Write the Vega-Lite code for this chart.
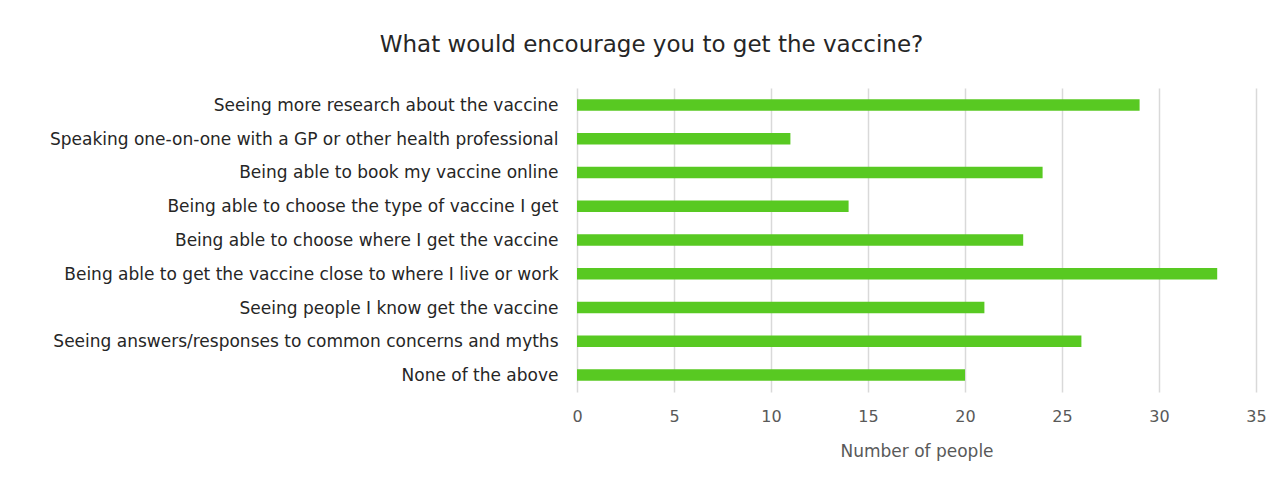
{
  "$schema": "https://vega.github.io/schema/vega-lite/v6.json",
  "autosize": "none",
  "width": 679,
  "height": 304,
  "padding": {"left": 577, "top": 88, "right": 22, "bottom": 88},
  "background": "white",
  "title": {
    "text": "What would encourage you to get the vaccine?",
    "font": "DejaVu Sans",
    "fontSize": 23,
    "fontWeight": "normal",
    "color": "#262626",
    "anchor": "middle",
    "dx": -265,
    "offset": 31
  },
  "data": {
    "values": [
      {"reason": "Seeing more research about the vaccine", "people": 29},
      {"reason": "Speaking one-on-one with a GP or other health professional", "people": 11},
      {"reason": "Being able to book my vaccine online", "people": 24},
      {"reason": "Being able to choose the type of vaccine I get", "people": 14},
      {"reason": "Being able to choose where I get the vaccine", "people": 23},
      {"reason": "Being able to get the vaccine close to where I live or work", "people": 33},
      {"reason": "Seeing people I know get the vaccine", "people": 21},
      {"reason": "Seeing answers/responses to common concerns and myths", "people": 26},
      {"reason": "None of the above", "people": 20}
    ]
  },
  "mark": {"type": "bar", "color": "#58c922"},
  "encoding": {
    "y": {
      "field": "reason",
      "type": "nominal",
      "sort": null,
      "scale": {"paddingInner": 0.66, "paddingOuter": 0.33},
      "axis": {
        "title": null,
        "domain": false,
        "ticks": false,
        "labelPadding": 19,
        "labelFont": "DejaVu Sans",
        "labelFontSize": 17,
        "labelColor": "#262626",
        "labelLimit": 0,
        "labelOffset": 1
      }
    },
    "x": {
      "field": "people",
      "type": "quantitative",
      "scale": {"domain": [0, 35], "nice": false},
      "axis": {
        "values": [0, 5, 10, 15, 20, 25, 30, 35],
        "title": "Number  of people",
        "titleFont": "DejaVu Sans",
        "titleFontSize": 17,
        "titleFontWeight": "normal",
        "titleColor": "#595959",
        "titlePadding": 19,
        "labelFont": "DejaVu Sans",
        "labelFontSize": 16,
        "labelColor": "#595959",
        "labelPadding": 16,
        "labelFlush": false,
        "domain": false,
        "ticks": false,
        "grid": true,
        "gridColor": "#d9d9d9",
        "gridWidth": 1.5
      }
    }
  },
  "config": {"view": {"stroke": null}}
}
